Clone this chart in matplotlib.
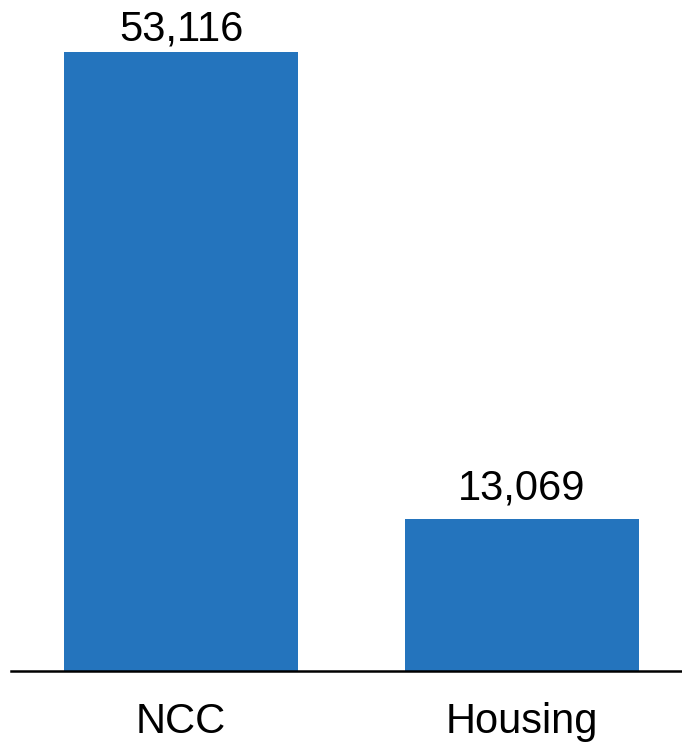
import matplotlib
matplotlib.use("Agg")
import matplotlib.pyplot as plt

categories = ["NCC", "Housing"]
values = [53116, 13069]
value_labels = ["53,116", "13,069"]

plt.rcParams['font.family'] = ['Liberation Sans', 'DejaVu Sans']

W, H = 682, 745
fig = plt.figure(figsize=(W / 100, H / 100), dpi=100)
ax = fig.add_axes([11 / W, (H - 671) / H, (W - 11) / W, 671 / H])

x = list(range(len(categories)))
bars = ax.bar(x, values, width=0.686, color="#2474BD")
ax.set_xlim(-0.4985, 1.469)
ax.set_ylim(0, 53116 * 671 / 619)

fig.canvas.draw()
renderer = fig.canvas.get_renderer()
for b, lab in zip(bars, value_labels):
    t = ax.annotate(lab, (b.get_x() + b.get_width() / 2, b.get_height()),
                    xytext=(0, 10), textcoords="offset pixels",
                    ha="center", va="bottom", fontsize=30, color="black")
    # keep labels inside the figure with a small top margin
    bb = t.get_window_extent(renderer)
    top_limit = H - 10
    if bb.y1 > top_limit:
        t.set_position((0, 10 - (bb.y1 - top_limit)))

ax.set_xticks(x)
ax.set_xticklabels(categories, fontsize=30)
ax.tick_params(axis="x", length=0, pad=22)
ax.set_yticks([])
for s in ["top", "right", "left"]:
    ax.spines[s].set_visible(False)
ax.spines["bottom"].set_linewidth(1.8)

fig.savefig("out.png", dpi=100)
